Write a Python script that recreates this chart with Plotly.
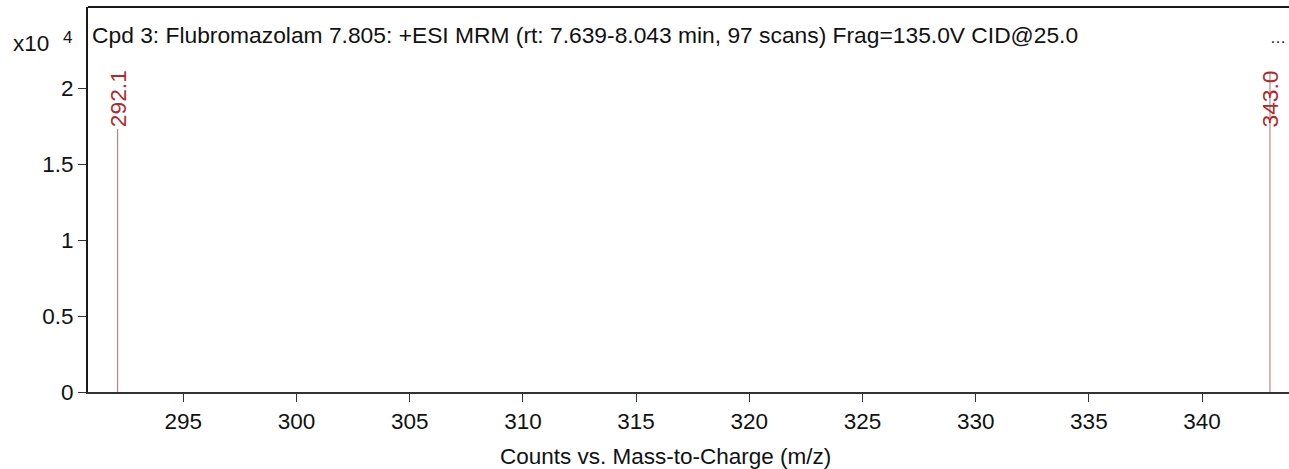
import plotly.graph_objects as go

# ---- data ----
mz = [292.1, 343.0]
counts = [17300, 21000]
peak_labels = ["292.1", "343.0"]
x_ticks = [295, 300, 305, 310, 315, 320, 325, 330, 335, 340]
y_ticks = [0, 5000, 10000, 15000, 20000]
y_tick_text = ["0", "0.5", "1", "1.5", "2"]
title_text = "Cpd 3: Flubromazolam 7.805: +ESI MRM (rt: 7.639-8.043 min, 97 scans) Frag=135.0V CID@25.0"
x_title = "Counts vs. Mass-to-Charge (m/z)"

X_RANGE = [290.79, 343.84]
Y_RANGE = [0, 25330]
LABEL_CAP = 17300

FONT = "Liberation Sans, Arial, sans-serif"
STEM = "#c06868"
LABEL = "#b02a2a"
FS = 22.5

fig = go.Figure()
xs, ys = [], []
for m, c in zip(mz, counts):
    xs += [m, m, None]
    ys += [0, c, None]
fig.add_trace(go.Scatter(x=xs, y=ys, mode="lines",
                         line=dict(color=STEM, width=1), hoverinfo="skip",
                         showlegend=False))

for m, c, t in zip(mz, counts, peak_labels):
    fig.add_annotation(x=m, y=min(c, LABEL_CAP), xref="x", yref="y", text=t,
                       textangle=-90, showarrow=False, yanchor="bottom",
                       xanchor="center", font=dict(family=FONT, size=22.8, color=LABEL))

fig.add_annotation(x=0, y=1, xref="paper", yref="paper", text=title_text,
                   showarrow=False, xanchor="left", yanchor="top", xshift=2, yshift=-13,
                   font=dict(family=FONT, size=22.8, color="#111"))
fig.add_annotation(x=1, y=1, xref="paper", yref="paper", text="…",
                   showarrow=False, xanchor="right", yanchor="top", xshift=-1, yshift=-20,
                   font=dict(family=FONT, size=16, color="#111"))
fig.add_annotation(x=0, y=1, xref="paper", yref="paper", text="x10",
                   showarrow=False, xanchor="right", yanchor="top", xshift=-37, yshift=-22,
                   font=dict(family=FONT, size=FS, color="#111"))
fig.add_annotation(x=0, y=1, xref="paper", yref="paper", text="4",
                   showarrow=False, xanchor="right", yanchor="top", xshift=-14, yshift=-19,
                   font=dict(family=FONT, size=17, color="#111"))
fig.add_annotation(x=0.5, y=0, xref="paper", yref="paper", text=x_title,
                   showarrow=False, xanchor="center", yanchor="top", xshift=-23, yshift=-50,
                   font=dict(family=FONT, size=FS, color="#111"))

fig.add_shape(type="line", xref="paper", yref="paper", x0=0, x1=1, y0=1, y1=1,
              line=dict(color="#1a1a1a", width=2))

fig.update_layout(
    width=1289, height=469,
    margin=dict(l=88, r=0, t=7, b=77),
    plot_bgcolor="white", paper_bgcolor="white",
    font=dict(family=FONT, size=FS, color="#111"),
    xaxis=dict(range=X_RANGE, tickmode="array", tickvals=x_ticks,
               ticks="outside", ticklen=8, tickcolor="#333", tickwidth=1,
               showline=True, linecolor="#333", linewidth=2, showgrid=False,
               zeroline=False),
    yaxis=dict(range=Y_RANGE, tickmode="array", tickvals=y_ticks, ticktext=y_tick_text,
               ticks="outside", ticklen=8, tickcolor="#333", tickwidth=1,
               showline=True, linecolor="#1a1a1a", linewidth=2, showgrid=False,
               zeroline=False),
)

fig.write_html("out.html", config={"displayModeBar": False},
               post_script="document.body.style.margin='0';document.body.style.overflow='hidden';")
